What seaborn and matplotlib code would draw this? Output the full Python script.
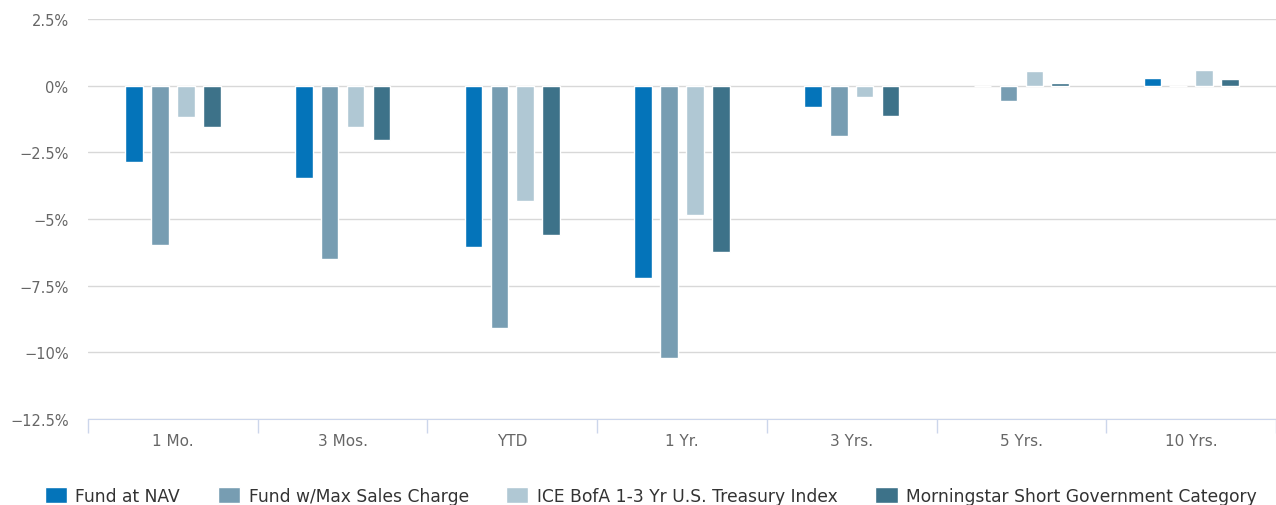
import matplotlib
matplotlib.use('Agg')
import matplotlib.pyplot as plt
import matplotlib.ticker as mticker
import seaborn as sns
import pandas as pd
import numpy as np

# values (%)
periods = ['1 Mo.', '3 Mos.', 'YTD', '1 Yr.', '3 Yrs.', '5 Yrs.', '10 Yrs.']
series_names = ['Fund at NAV', 'Fund w/Max Sales Charge',
                'ICE BofA 1-3 Yr U.S. Treasury Index',
                'Morningstar Short Government Category']
fund_nav = [-2.86, -3.46, -6.05, -7.22, -0.79, 0.0, 0.30]
fund_max_sales = [-5.98, -6.50, -9.10, -10.23, -1.88, -0.57, 0.0]
ice_bofa = [-1.17, -1.54, -4.32, -4.85, -0.41, 0.55, 0.60]
morningstar = [-1.54, -2.03, -5.60, -6.24, -1.13, 0.10, 0.26]
colors = ['#0474ba', '#779db2', '#b0c8d4', '#3d7289']
y_ticks = [2.5, 0, -2.5, -5, -7.5, -10, -12.5]

rows = []
for name, vals in zip(series_names, [fund_nav, fund_max_sales, ice_bofa, morningstar]):
    for p, v in zip(periods, vals):
        rows.append({'period': p, 'series': name, 'value': v})
df = pd.DataFrame(rows)

sns.set_style('white')
plt.rcParams['font.family'] = ['DejaVu Sans']

fig = plt.figure(figsize=(12.76, 5.06), dpi=100)
ax = fig.add_axes([0.069, 0.17, 0.931, 0.7905])

sns.barplot(data=df, x='period', y='value', hue='series', order=periods,
            hue_order=series_names, palette=colors, width=0.61, gap=0.32,
            edgecolor='white', linewidth=1, saturation=1, ax=ax, legend=True)

ax.set_ylim(-12.5, 2.5)
ax.set_xlim(-0.5, len(periods) - 0.5)
ax.set_yticks(y_ticks)
ax.yaxis.set_major_formatter(mticker.FuncFormatter(
    lambda v, _: ('%g%%' % v).replace('-', '\u2212')))
ax.grid(axis='y', color='#d8d8d8', linewidth=1)
ax.set_axisbelow(True)
for side in ['top', 'right', 'left']:
    ax.spines[side].set_visible(False)
ax.spines['bottom'].set_color('#ccd6eb')
ax.set_xlabel('')
ax.set_ylabel('')

ax.tick_params(axis='y', length=0, pad=14, labelsize=10.5, labelcolor='#666666')
ax.tick_params(axis='x', which='major', length=0, pad=10, labelsize=11, labelcolor='#666666')
ax.set_xticks(np.arange(-0.5, len(periods)), minor=True)
ax.tick_params(axis='x', which='minor', bottom=True, length=10, color='#ccd6eb', width=1)

handles, labels = ax.get_legend_handles_labels()
ax.get_legend().remove()
fig.legend(handles, labels, loc='lower center', ncol=4, frameon=False,
           bbox_to_anchor=(0.51, -0.03), fontsize=12.3, handlelength=1.3,
           handleheight=1.1, handletextpad=0.5, columnspacing=2.2,
           labelcolor='#333333')

fig.savefig('out.png', dpi=100)
